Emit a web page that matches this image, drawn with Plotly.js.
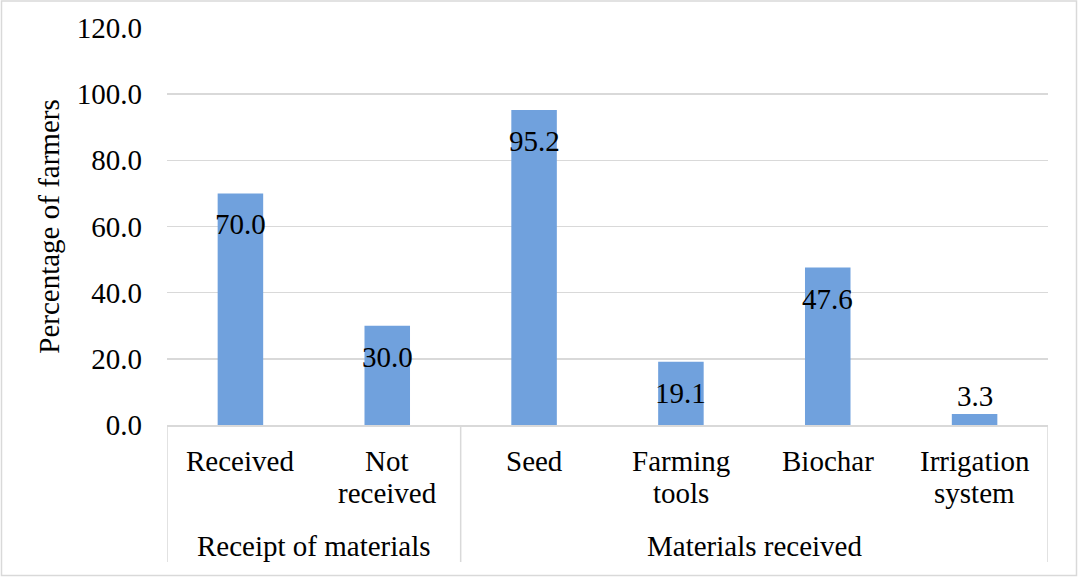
<!DOCTYPE html>
<html>
<head>
<meta charset="utf-8">
<script src="https://cdn.plot.ly/plotly-3.0.1.min.js"></script>
<style>
  html, body { margin: 0; padding: 0; background: #ffffff; }
  #chart { width: 1079px; height: 577px; }
</style>
</head>
<body>
<div id="chart"></div>
<script>
// Categories along the x axis (line breaks split two-line labels)
const categories = ['Received', 'Not\nreceived', 'Seed', 'Farming\ntools', 'Biochar', 'Irrigation\nsystem'];
// Share of farmers in each category, %
const percentages = [70.0, 30.0, 95.2, 19.1, 47.6, 3.3];
// Outer category groups and how many categories each one spans
const groups = ['Receipt of materials', 'Materials received'];
const groupSizes = [2, 4];
// Value axis ticks
const yTicks = [0, 20, 40, 60, 80, 100, 120];
const yTickLabels = yTicks.map(v => v.toFixed(1));

const FONT = 'Liberation Serif';
const FS = 29;
const GRID = '#d9d9d9';
const BAR = '#70a1dd';

// plot area in page pixels
const W = 1079, H = 577;
const PL = 167, PR = 1048, PT = 28, PB = 425;
const toPaperY = py => (PB - py) / (PB - PT);
const toPaperX = px => (px - PL) / (PR - PL);
const pxPerUnit = (PB - PT) / 120;

const ids = categories.map((c, i) => i);

const annotations = [];

// category labels, one annotation per text line
categories.forEach((c, i) => {
  c.split('\n').forEach((line, k) => {
    annotations.push({
      x: i, xref: 'x', y: toPaperY(461 + 32 * k), yref: 'paper',
      text: line, showarrow: false, xanchor: 'center', yanchor: 'middle',
      font: {family: FONT, size: FS, color: '#000'}
    });
  });
});

// group labels centred under their categories
let start = 0;
const dividers = [-0.5];
groups.forEach((g, j) => {
  const mid = start + (groupSizes[j] - 1) / 2;
  annotations.push({
    x: mid, xref: 'x', y: toPaperY(546), yref: 'paper',
    text: g, showarrow: false, xanchor: 'center', yanchor: 'middle',
    font: {family: FONT, size: FS, color: '#000'}
  });
  start += groupSizes[j];
  dividers.push(start - 0.5);
});

// value labels near the top of each bar; short bars keep theirs just above the axis
percentages.forEach((v, i) => {
  const fits = v * pxPerUnit > 60;
  annotations.push({
    x: i, xref: 'x', y: fits ? v : 0, yref: 'y',
    yshift: fits ? -31 : 29,
    text: v.toFixed(1), showarrow: false, xanchor: 'center', yanchor: 'middle',
    font: {family: FONT, size: FS, color: '#000'}
  });
});

const shapes = dividers.map(d => ({
  type: 'line', xref: 'x', yref: 'paper',
  x0: d, x1: d, y0: 0, y1: toPaperY(562),
  line: {color: GRID, width: 1.5}
}));

// chart frame
shapes.push({
  type: 'rect', xref: 'paper', yref: 'paper',
  x0: toPaperX(1.5), x1: toPaperX(1076.5), y0: toPaperY(575.5), y1: toPaperY(1),
  line: {color: GRID, width: 1.5}, fillcolor: 'rgba(0,0,0,0)', layer: 'below'
});

const trace = {
  type: 'bar',
  x: ids,
  y: percentages,
  marker: {color: BAR, line: {width: 0}},
  hoverinfo: 'skip'
};

const layout = {
  width: W, height: H,
  margin: {l: PL, r: W - PR, t: PT, b: H - PB, pad: 0},
  paper_bgcolor: '#ffffff', plot_bgcolor: '#ffffff',
  showlegend: false,
  bargap: 0.69,
  font: {family: FONT, size: FS, color: '#000'},
  xaxis: {
    type: 'linear', range: [-0.5, categories.length - 0.5],
    showticklabels: false, showgrid: false, zeroline: false,
    showline: true, linecolor: GRID, linewidth: 1.5, ticks: '', fixedrange: true
  },
  yaxis: {
    range: [0, 120], tickvals: yTicks, ticktext: yTickLabels,
    showgrid: true, gridcolor: GRID, gridwidth: 1.5, zeroline: false,
    showline: false, ticks: '', ticklabelstandoff: 24,
    tickfont: {family: FONT, size: FS, color: '#000'},
    title: {text: 'Percentage of farmers', standoff: 8, font: {family: FONT, size: FS, color: '#000'}},
    fixedrange: true
  },
  annotations: annotations,
  shapes: shapes
};

Plotly.newPlot('chart', [trace], layout, {displayModeBar: false, staticPlot: true});
</script>
</body>
</html>
